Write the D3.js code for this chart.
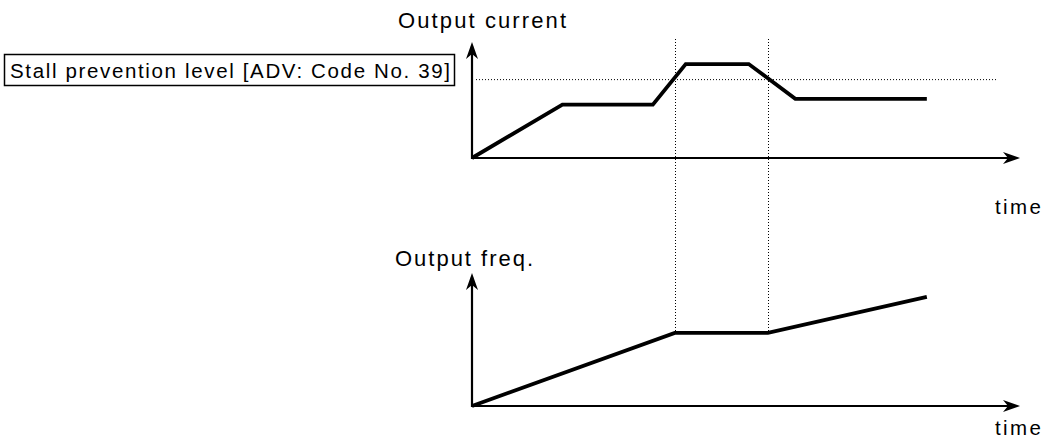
<!DOCTYPE html>
<html>
<head>
<meta charset="utf-8">
<script src="https://cdn.jsdelivr.net/npm/d3@7"></script>
<style>
  html, body { margin: 0; padding: 0; background: #fff; }
  svg { display: block; }
  text { font-family: "Liberation Sans", Arial, Helvetica, sans-serif; fill: #000; }
</style>
</head>
<body>
<svg id="chart" width="1047" height="445"></svg>
<script>
// ---- data (time in arbitrary units 0..100, values in % of axis height) ----
const currentTimes  = [0, 16.5, 33, 39, 50.5, 59, 83];
const currentValues = [0, 46, 46, 81, 81, 51, 51];
const freqTimes     = [0, 37, 54, 83];
const freqValues    = [0, 55, 55, 82];
const stallLevel    = 68;
const stallInterval = [37, 54];
const labels = {
  current: "Output current",
  freq: "Output freq.",
  time: "time",
  stall: "Stall prevention level [ADV: Code No. 39]"
};

const svg = d3.select("#chart");

const x = d3.scaleLinear().domain([0, 100]).range([472, 1020]);
const yCur = d3.scaleLinear().domain([0, 100]).range([158, 42]);
const yFreq = d3.scaleLinear().domain([0, 100]).range([406, 273]);

function arrowHead(g, tx, ty, angle) {
  g.append("path")
    .attr("d", "M0,0 L-17,-6 L-12,0 L-17,6 Z")
    .attr("transform", `translate(${tx},${ty}) rotate(${angle})`)
    .attr("fill", "#000");
}

function drawAxes(y) {
  const g = svg.append("g");
  const x0 = x(0), y0 = y(0);
  g.append("line").attr("x1", x0).attr("y1", y0).attr("x2", x.range()[1] - 4).attr("y2", y0)
    .attr("stroke", "#000").attr("stroke-width", 2.2);
  g.append("line").attr("x1", x0).attr("y1", y0 + 1).attr("x2", x0).attr("y2", y.range()[1] + 4)
    .attr("stroke", "#000").attr("stroke-width", 2.2);
  arrowHead(g, x.range()[1], y0, 0);
  arrowHead(g, x0, y.range()[1], -90);
}

// dotted guides
const dotted = svg.append("g").attr("stroke", "#000").attr("stroke-width", 1)
  .attr("stroke-dasharray", "1,2").attr("fill", "none");
dotted.append("line")
  .attr("x1", x(0) + 4).attr("x2", 998)
  .attr("y1", yCur(stallLevel) + 0.5).attr("y2", yCur(stallLevel) + 0.5);
stallInterval.forEach(t => {
  dotted.append("line")
    .attr("x1", Math.round(x(t)) + 0.5).attr("x2", Math.round(x(t)) + 0.5)
    .attr("y1", yCur.range()[1] - 3).attr("y2", yFreq(freqValues[1]));
});

drawAxes(yCur);
drawAxes(yFreq);

const lineCur = d3.line().x((d, i) => x(currentTimes[i])).y(d => yCur(d));
svg.append("path").datum(currentValues).attr("d", lineCur)
  .attr("fill", "none").attr("stroke", "#000").attr("stroke-width", 3.8)
  .attr("stroke-linejoin", "miter");

const lineFreq = d3.line().x((d, i) => x(freqTimes[i])).y(d => yFreq(d));
svg.append("path").datum(freqValues).attr("d", lineFreq)
  .attr("fill", "none").attr("stroke", "#000").attr("stroke-width", 3.8)
  .attr("stroke-linejoin", "miter");

// labels
function label(txt, xx, yy, size, len) {
  return svg.append("text").attr("x", xx).attr("y", yy)
    .attr("font-size", size)
    .attr("textLength", len).attr("lengthAdjust", "spacing")
    .text(txt);
}
label(labels.current, 398, 28, 22, 168);
label(labels.freq, 395, 266, 22, 138);
label(labels.time, 995, 214, 20.5, 46);
label(labels.time, 995, 435, 20.5, 46);

// stall prevention box
svg.append("rect").attr("x", 4.5).attr("y", 54.5).attr("width", 450).attr("height", 31)
  .attr("fill", "#fff").attr("stroke", "#000").attr("stroke-width", 1.5);
label(labels.stall, 10, 77.5, 20.5, 440);
</script>
</body>
</html>
